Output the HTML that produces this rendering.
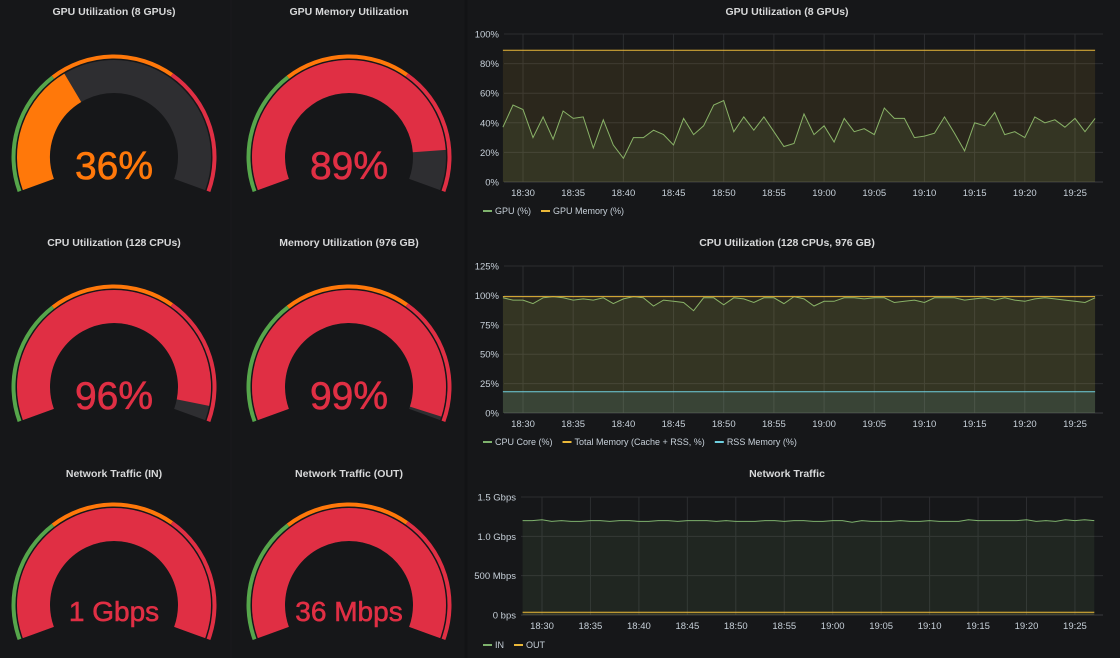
<!DOCTYPE html>
<html><head><meta charset="utf-8">
<style>
html,body{margin:0;padding:0;background:#161719;width:1120px;height:658px;overflow:hidden;font-family:"Liberation Sans",sans-serif;}
svg{display:block}
</style></head>
<body>
<svg id="root" width="1120" height="658" xmlns="http://www.w3.org/2000/svg">
<rect x="0" y="0" width="1120" height="658" fill="#161719"/>
<line x1="231" y1="0" x2="231" y2="658" stroke="#191a1d" stroke-width="1"/>
<line x1="466" y1="0" x2="466" y2="658" stroke="#121315" stroke-width="3"/>
</svg>
<script>
const NS='http://www.w3.org/2000/svg';
const root=document.getElementById('root');
function el(tag,attrs,parent){const e=document.createElementNS(NS,tag);for(const k in attrs)e.setAttribute(k,attrs[k]);(parent||root).appendChild(e);return e;}
function txt(x,y,s,attrs,parent){const t=el('text',Object.assign({x:x,y:y},attrs),parent);t.textContent=s;return t;}

/* ---------- gauge data ---------- */
const gaugeTitles=['GPU Utilization (8 GPUs)','GPU Memory Utilization','CPU Utilization (128 CPUs)','Memory Utilization (976 GB)','Network Traffic (IN)','Network Traffic (OUT)'];
const gaugeValues=[36,89,96,99,100,100];
const gaugeLabels=['36%','89%','96%','99%','1 Gbps','36 Mbps'];
const gaugeThresholds=[33,66];

const GREEN='#56a64b',ORANGE='#ff780a',RED='#e02f44',DARK='#2e2e31';
function pt(cx,cy,r,a){const rad=a*Math.PI/180;return [cx+r*Math.sin(rad),cy-r*Math.cos(rad)];}
function arcPath(cx,cy,r,a0,a1){const p0=pt(cx,cy,r,a0),p1=pt(cx,cy,r,a1);const large=(a1-a0)>180?1:0;return `M${p0[0].toFixed(2)},${p0[1].toFixed(2)} A${r},${r} 0 ${large} 1 ${p1[0].toFixed(2)},${p1[1].toFixed(2)}`;}
function ang(v){return -110+220*Math.max(0,Math.min(100,v))/100;}
function colorFor(v){return v>=gaugeThresholds[1]?RED:(v>=gaugeThresholds[0]?ORANGE:GREEN);}
const gcx=[114,349],gcy=[157,387,605],gTitleY=[15,246,477];
gaugeTitles.forEach((t,i)=>{
  const col=i%2,row=Math.floor(i/2);
  const cx=gcx[col],cy=gcy[row];
  const g=el('g',{});
  
  
  const tt=txt(cx,gTitleY[row],t,{'text-anchor':'middle','font-size':'10.5','font-weight':'bold',fill:'#d8d9da'},g);
  
  
  const segs=[[0,gaugeThresholds[0],GREEN],[gaugeThresholds[0],gaugeThresholds[1],ORANGE],[gaugeThresholds[1],100,RED]];
  segs.forEach(s=>{const p=el('path',{d:arcPath(cx,cy,100.5,ang(s[0]),ang(s[1])),stroke:s[2],'stroke-width':4,fill:'none'},g);
    });
  el('path',{d:arcPath(cx,cy,80.5,-110,110),stroke:DARK,'stroke-width':33,fill:'none'},g);
  const v=gaugeValues[i],c=colorFor(v);
  if(v>0){const p=el('path',{d:arcPath(cx,cy,80.5,-110,ang(v)),stroke:c,'stroke-width':33,fill:'none'},g);
    }
  const big=row<2;
  const vt=txt(cx,big?cy+22:cy+16,gaugeLabels[i],{'text-anchor':'middle','font-size':big?'39':'28',fill:c,stroke:c,'stroke-width':'0.6'},g);
  
  
});

/* ---------- time series data ---------- */
const timeLabels=['18:30','18:35','18:40','18:45','18:50','18:55','19:00','19:05','19:10','19:15','19:20','19:25'];
const startMinute=-2;
const gpuUtil=[37,52,49,30,44,29,48,43,44,23,42,25,16,30,30,35,32,25,43,32,38,52,55,34,44,35,44,34,24,26,46,32,38,27,43,34,36,32,50,43,43,30,31,33,44,33,21,40,38,47,32,34,30,44,40,42,37,43,34,43];
const gpuMem=Array(60).fill(89);
const cpuCore=[98,96,96,93,98,99,98,96,97,96,98,93,97,99,98,91,96,95,94,87,98,98,92,98,97,94,98,98,93,99,97,91,95,95,98,98,97,98,98,94,95,96,94,98,98,98,96,97,98,96,98,96,95,97,98,97,96,95,94,98];
const totalMem=Array(60).fill(99);
const rssMem=Array(60).fill(18);
const netIn=[1.20,1.20,1.21,1.19,1.20,1.19,1.19,1.20,1.20,1.19,1.20,1.20,1.19,1.19,1.20,1.20,1.19,1.20,1.20,1.20,1.19,1.20,1.19,1.19,1.19,1.20,1.20,1.19,1.20,1.20,1.19,1.19,1.20,1.20,1.18,1.20,1.19,1.19,1.19,1.20,1.19,1.19,1.20,1.19,1.19,1.19,1.21,1.20,1.20,1.20,1.20,1.20,1.21,1.19,1.20,1.19,1.21,1.20,1.21,1.20];
const netOut=Array(60).fill(0.036);

function chart(cfg){
  const g=el('g',{});
  
  
  const t=txt(787,cfg.titleY,cfg.title,{'text-anchor':'middle','font-size':'10.5','font-weight':'bold',fill:'#d8d9da'},g);
  
  
  const L=cfg.left,R=1103,T=cfg.top,B=cfg.bottom;
  const y=v=>B-(v-cfg.ymin)/(cfg.ymax-cfg.ymin)*(B-T);
  const x=m=>cfg.x30+m*cfg.perMin;
  cfg.yticks.forEach((v,k)=>{
    el('line',{x1:L,x2:R,y1:y(v),y2:y(v),stroke:'#2c2d30','stroke-width':1},g);
    const lt=txt(L-5,y(v)+3.5,cfg.ylabels[k],{'text-anchor':'end','font-size':'9.5',fill:'#c7d0d9'},g);
    
  });
  timeLabels.forEach((s,k)=>{
    const xx=x(k*5);
    el('line',{x1:xx,x2:xx,y1:T,y2:B,stroke:'#2c2d30','stroke-width':1},g);
    const lt=txt(xx,B+14,s,{'text-anchor':'middle','font-size':'9.5',fill:'#c7d0d9'},g);
    
  });
  el('line',{x1:L,x2:R,y1:B,y2:B,stroke:'#3a3b3e'},g);
  cfg.series.forEach(s=>{
    const pts=s.data.map((v,k)=>[x(startMinute+k),y(v)]);
    const d=pts.map((p,k)=>(k?'L':'M')+p[0].toFixed(1)+','+p[1].toFixed(1)).join(' ');
    const area=el('path',{d:d+` L${pts[pts.length-1][0].toFixed(1)},${B} L${pts[0][0].toFixed(1)},${B} Z`,fill:s.color,'fill-opacity':0.1,stroke:'none'},g);
    
    const line=el('path',{d:d,fill:'none',stroke:s.color,'stroke-width':1},g);
    
  });
  let lx=483;
  cfg.series.forEach(s=>{
    const lg=el('g',{},g);
    
    
    el('rect',{x:lx,y:cfg.legendY-1,width:9,height:2,fill:s.color},lg);
    const lt=txt(lx+12,cfg.legendY+3,s.label,{'font-size':'9','fill':'#c7d0d9'},lg);
    lx+=12+lt.getComputedTextLength()+10;
  });
}
chart({name:'gpu-chart',title:'GPU Utilization (8 GPUs)',titleY:15,left:504,top:34,bottom:182,ymin:0,ymax:100,
  yticks:[0,20,40,60,80,100],ylabels:['0%','20%','40%','60%','80%','100%'],x30:523,perMin:10.036,legendY:211,
  series:[{key:'gpu',label:'GPU (%)',color:'#7eb26d',data:gpuUtil},{key:'gpu-memory',label:'GPU Memory (%)',color:'#eab839',data:gpuMem}]});
chart({name:'cpu-chart',title:'CPU Utilization (128 CPUs, 976 GB)',titleY:246,left:504,top:266,bottom:413,ymin:0,ymax:125,
  yticks:[0,25,50,75,100,125],ylabels:['0%','25%','50%','75%','100%','125%'],x30:523,perMin:10.036,legendY:442,
  series:[{key:'cpu-core',label:'CPU Core (%)',color:'#7eb26d',data:cpuCore},{key:'total-memory',label:'Total Memory (Cache + RSS, %)',color:'#eab839',data:totalMem},{key:'rss-memory',label:'RSS Memory (%)',color:'#6ed0e0',data:rssMem}]});
chart({name:'network-chart',title:'Network Traffic',titleY:477,left:521,top:497,bottom:615,ymin:0,ymax:1.5,
  yticks:[0,0.5,1.0,1.5],ylabels:['0 bps','500 Mbps','1.0 Gbps','1.5 Gbps'],x30:542,perMin:9.69,legendY:645,
  series:[{key:'in',label:'IN',color:'#7eb26d',data:netIn},{key:'out',label:'OUT',color:'#eab839',data:netOut}]});
</script>
</body></html>
